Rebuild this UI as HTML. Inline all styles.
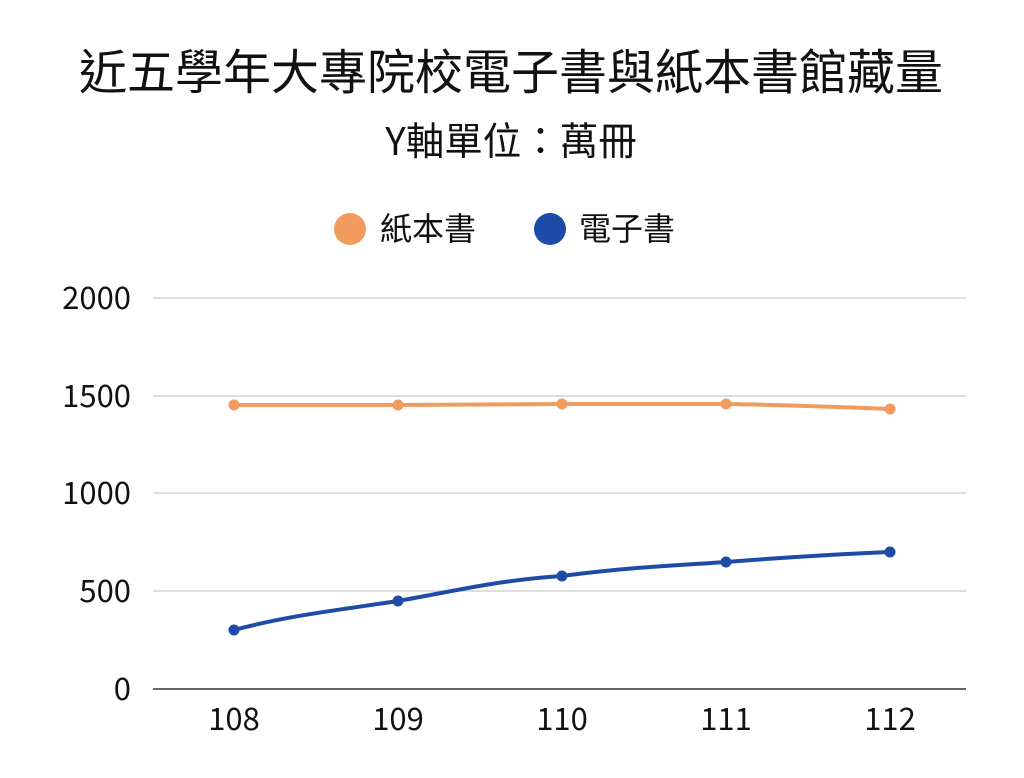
<!DOCTYPE html>
<html><head><meta charset="utf-8"><style>
body{margin:0;background:#fff;}
svg text{font-family:"Noto Sans CJK TC","Liberation Sans",sans-serif;fill:#111;}
</style></head><body>
<svg width="1024" height="773" viewBox="0 0 1024 773" xmlns="http://www.w3.org/2000/svg">
<rect width="1024" height="773" fill="#fff"/>
<text x="511" y="89" font-size="48" text-anchor="middle">近五學年大專院校電子書與紙本書館藏量</text>
<text x="511" y="155" font-size="38.5" text-anchor="middle">Y軸單位：萬冊</text>
<circle cx="350" cy="229" r="16" fill="#f29b5f"/>
<text x="380" y="240" font-size="32">紙本書</text>
<circle cx="550" cy="229" r="16" fill="#1f4ba8"/>
<text x="579" y="240" font-size="32">電子書</text>
<g stroke="#ccc" stroke-width="1.2">
<line x1="153" y1="298" x2="966" y2="298"/>
<line x1="153" y1="396" x2="966" y2="396"/>
<line x1="153" y1="493" x2="966" y2="493"/>
<line x1="153" y1="591" x2="966" y2="591"/>
</g>
<line x1="153" y1="689" x2="966" y2="689" stroke="#333" stroke-width="1.5"/>
<g font-size="31" text-anchor="end">
<text x="131" y="309">2000</text>
<text x="131" y="407">1500</text>
<text x="131" y="504">1000</text>
<text x="131" y="602">500</text>
<text x="131" y="700">0</text>
</g>
<g font-size="31" text-anchor="middle">
<text x="234" y="730">108</text>
<text x="398" y="730">109</text>
<text x="562" y="730">110</text>
<text x="726" y="730">111</text>
<text x="890" y="730">112</text>
</g>
<path d="M234,405 C300,405 340,405 398,405 C460,405 500,404 562,404 C630,403.5 680,403.5 726,404 C790,405 840,407 890,409" fill="none" stroke="#f29b5f" stroke-width="4"/>
<g fill="#f29b5f">
<circle cx="234" cy="405" r="5.5"/><circle cx="398" cy="405" r="5.5"/><circle cx="562" cy="404" r="5.5"/><circle cx="726" cy="404" r="5.5"/><circle cx="890" cy="409" r="5.5"/>
</g>
<path d="M234,630 C290,615 340,610 398,601 C460,590 500,580 562,576 C630,567 670,566 726,562 C790,557 840,554 890,552" fill="none" stroke="#1f4ba8" stroke-width="4"/>
<g fill="#1f4ba8">
<circle cx="234" cy="630" r="5.5"/><circle cx="398" cy="601" r="5.5"/><circle cx="562" cy="576" r="5.5"/><circle cx="726" cy="562" r="5.5"/><circle cx="890" cy="552" r="5.5"/>
</g>
</svg>
</body></html>
